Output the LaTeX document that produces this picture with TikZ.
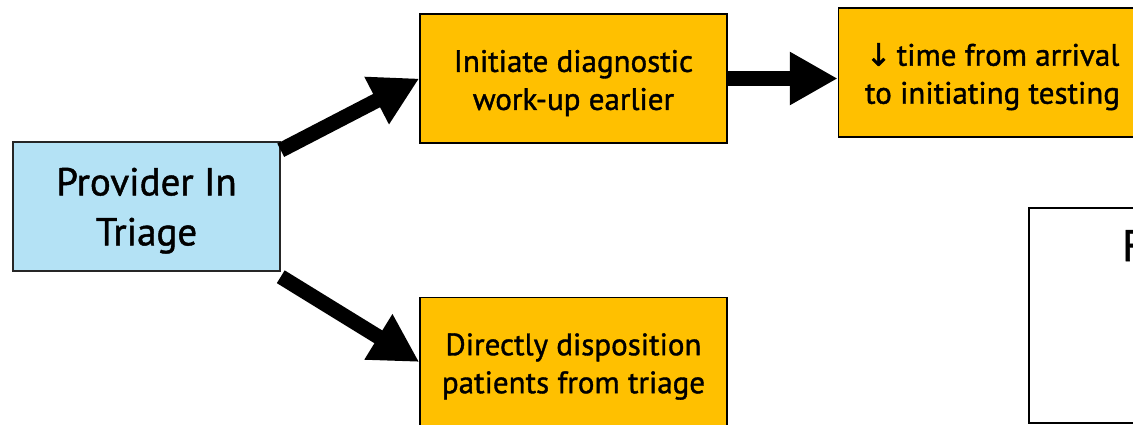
\documentclass[tikz,border=0pt]{standalone}
\usepackage{fontspec}
\setmainfont[FakeBold=1.2]{PT Sans}
\newfontfamily\arrowfont[FakeBold=1.2]{DejaVu Sans}
\usetikzlibrary{arrows.meta,positioning}

\definecolor{triageblue}{HTML}{B4E2F5}
\definecolor{stepyellow}{HTML}{FFC000}

\begin{document}
\begin{tikzpicture}[x=1pt,y=1pt,node distance=110pt,
    src node/.style={rectangle,draw=black!85,line width=1.5pt,fill=triageblue,
      minimum width=267pt,minimum height=129pt,align=center,
      font=\fontsize{39}{50}\selectfont,text height=86pt},
    out node/.style={rectangle,draw=black,line width=1.5pt,fill=stepyellow,
      minimum width=307pt,minimum height=129pt,align=center,
      font=\fontsize{31}{38}\selectfont,text height=69pt},
    big arrow/.style={line width=15pt,-{Triangle[length=48pt,width=50pt]}}]

  \useasboundingbox (0,0) rectangle (1133,424);
  \begin{scope}
    \clip (0,0) rectangle (1133,424);

    \node[src node] (prov) at (146.5,217.5) {Provider In\\Triage};
    \node[out node] (init) at (573.5,345.5) {Initiate diagnostic\\work-up earlier};
    \node[out node] (direct) [below=153pt of init] {Directly disposition\\patients from triage};
    \node[out node,minimum width=308pt] (time) [right=of init,yshift=6pt]
      {{\arrowfont\char"2193}\,time from arrival\\to initiating testing};

    % box at the right, mostly cut off
    \node[rectangle,draw=black,line width=1.5pt,minimum width=200pt,minimum height=215pt,
      anchor=north west] (rbox) at (1028,217) {};
    \node[font=\fontsize{44}{50}\selectfont,anchor=north west,inner sep=0pt]
      (rtext) at ([xshift=94pt,yshift=-23pt]rbox.north west) {F};

    \path[big arrow]
      ([yshift=-9pt]prov.north east) edge (init.west)
      ([yshift=-5pt]prov.south east) edge (direct.west)
      (init.east) edge (time.west |- init.east);
  \end{scope}
\end{tikzpicture}
\end{document}
